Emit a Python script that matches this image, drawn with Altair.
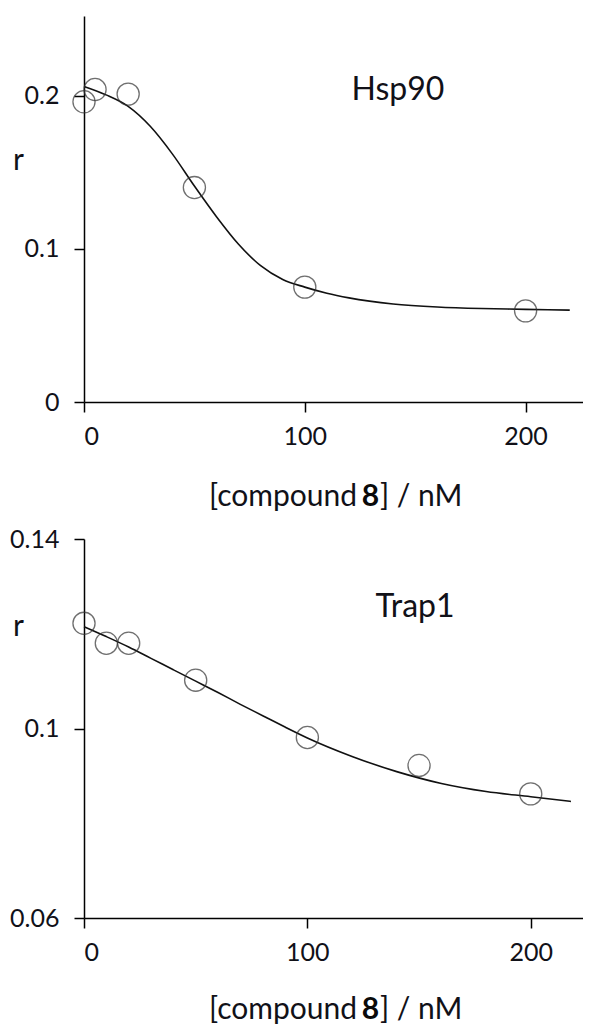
import altair as alt
import pandas as pd

# ---- data ----
hsp_conc = [0, 5, 20, 50, 100, 200]
hsp_r = [0.196, 0.204, 0.201, 0.140, 0.075, 0.0595]
hsp_fit_conc = [0, 10, 20, 30, 40, 50, 60, 70, 80, 90, 100, 110, 120, 140, 160, 180, 200, 220]
hsp_fit_r = [0.206, 0.2005, 0.193, 0.180, 0.162, 0.141, 0.121, 0.103, 0.089, 0.080,
             0.075, 0.071, 0.068, 0.064, 0.062, 0.061, 0.0605, 0.060]

trap_conc = [0, 10, 20, 50, 100, 150, 200]
trap_r = [0.1222, 0.118, 0.118, 0.1102, 0.0981, 0.0922, 0.0862]
trap_fit_conc = [0, 10, 20, 30, 40, 50, 60, 70, 80, 90, 100, 120, 140, 160, 180, 200, 218]
trap_fit_r = [0.1215, 0.1194, 0.1172, 0.1148, 0.1124, 0.1100, 0.1076, 0.1051, 0.1027, 0.1003,
              0.0980, 0.0941, 0.0909, 0.0884, 0.0867, 0.0856, 0.0846]

x_ticks = [0, 100, 200]
hsp_y_ticks = [0, 0.1, 0.2]
trap_y_ticks = [0.06, 0.1, 0.14]

FONT = "Lato"
TXT = "#111118"
W = 499


def panel(pc, pr, fc, fr, xmax, ydom, yticks, h, name, name_xy, title_y):
    pts_df = pd.DataFrame({"c": pc, "r": pr})
    fit_df = pd.DataFrame({"c": fc, "r": fr})
    x = alt.X("c:Q", scale=alt.Scale(domain=[0, xmax], nice=False, zero=False),
              axis=alt.Axis(values=x_ticks, title=None, format="d", labelPadding=12))
    y = alt.Y("r:Q", scale=alt.Scale(domain=ydom, nice=False, zero=False),
              axis=alt.Axis(values=yticks, title=None, format="~g", labelPadding=15))
    line = alt.Chart(fit_df).mark_line(color="#111111", strokeWidth=1.6,
                                        interpolate="monotone").encode(x=x, y=y)
    pts = alt.Chart(pts_df).mark_point(shape="circle", size=490, filled=False,
                                        stroke="#333333", strokeWidth=1.3).encode(x=x, y=y)
    one = pd.DataFrame({"a": [0]})
    base_txt = dict(font=FONT, color=TXT)
    lab = alt.Chart(one).mark_text(text=name, fontSize=32, align="center",
                                   baseline="alphabetic", **base_txt).encode(
        x=alt.value(name_xy[0]), y=alt.value(name_xy[1]))
    rlab = alt.Chart(one).mark_text(text="r", fontSize=30, align="left",
                                    baseline="middle", **base_txt).encode(
        x=alt.value(-71), y=alt.value(name_xy[2]))
    t1 = alt.Chart(one).mark_text(text="[compound", fontSize=30, align="right",
                                  baseline="middle", **base_txt).encode(
        x=alt.value(273), y=alt.value(title_y))
    t2 = alt.Chart(one).mark_text(text="8", fontSize=30, fontWeight="bold", align="center",
                                  baseline="middle", font=FONT, color="#0a0a0a").encode(
        x=alt.value(286.5), y=alt.value(title_y))
    t3 = alt.Chart(one).mark_text(text="] / nM", fontSize=30, align="left",
                                  baseline="middle", **base_txt).encode(
        x=alt.value(296), y=alt.value(title_y))
    return alt.layer(line, pts, lab, rlab, t1, t2, t3).properties(width=W, height=h)


top = panel(hsp_conc, hsp_r, hsp_fit_conc, hsp_fit_r, 226, [0, 0.252], hsp_y_ticks,
            386, "Hsp90", (314, 84, 144.5), 481)
bottom = panel(trap_conc, trap_r, trap_fit_conc, trap_fit_r, 223.4, [0.06, 0.14], trap_y_ticks,
               379, "Trap1", (331, 78, 88), 471)

chart = alt.vconcat(top, bottom, spacing=15).properties(
    padding={"left": 1, "top": 8, "right": 0, "bottom": 0},
    background="white",
).configure_view(stroke=None).configure_axis(
    domainColor="#000000", domainWidth=1.5, tickColor="#000000", tickWidth=1.5,
    tickSize=10, grid=False, labelFont=FONT, labelFontSize=25, labelColor=TXT,
)

chart.save("out.html", embed_options={"renderer": "svg", "actions": False})
